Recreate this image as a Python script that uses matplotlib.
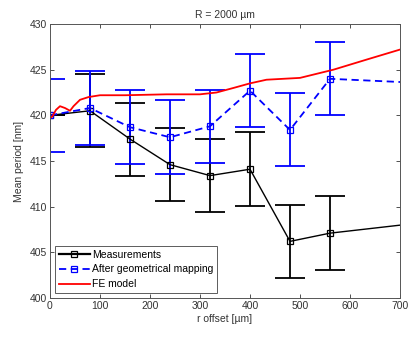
import matplotlib
matplotlib.use("Agg")
import matplotlib.pyplot as plt

r_meas = [0, 80, 160, 240, 320, 400, 480, 560, 720]
y_meas = [420.0, 420.5, 417.4, 414.6, 413.4, 414.1, 406.2, 407.1, 408.1]
err_meas = [0, 4.0, 4.0, 4.0, 4.0, 4.05, 4.0, 4.05]

r_map = [0, 80, 160, 240, 320, 400, 480, 560, 720]
y_map = [420.0, 420.8, 418.7, 417.6, 418.8, 422.7, 418.4, 424.0, 423.6]
err_map = [4.0, 4.05, 4.05, 4.05, 4.0, 4.0, 4.0, 4.0]

r_fe = [0, 5, 12, 20, 30, 40, 47, 60, 77, 100, 150, 233, 300, 333, 367, 400, 433, 500, 567, 633, 700]
y_fe = [419.7, 419.9, 420.6, 421.0, 420.8, 420.5, 421.0, 421.7, 422.0, 422.2, 422.2, 422.3, 422.3, 422.5, 423.0, 423.5, 423.9, 424.1, 425.0, 426.1, 427.2]

plt.rcParams['font.family'] = ['Liberation Sans', 'DejaVu Sans']
fig = plt.figure(figsize=(4.10, 3.47), dpi=100)
ax = fig.add_axes([50/410, 1-298/347, 350/410, 274/347])

n = len(err_meas)
ax.errorbar(r_meas[:n], y_meas[:n], yerr=err_meas, fmt='none', ecolor='black',
            elinewidth=1.3, capsize=11, capthick=1.3)
ax.errorbar(r_map[:n], y_map[:n], yerr=err_map, fmt='none', ecolor='#0000ff',
            elinewidth=1.3, capsize=11, capthick=1.3)
ax.plot(r_meas, y_meas, '-s', color='black', lw=1.0, ms=5, mfc='none', mew=0.9,
        label='Measurements')
ax.plot(r_map, y_map, '--s', color='#0000ff', lw=1.3, ms=5, mfc='none', mew=0.9,
        dashes=(4, 2.5), label='After geometrical mapping')
ax.plot(r_fe, y_fe, '-', color='#ff0000', lw=1.3, label='FE model')

ax.set_xlim(0, 700)
ax.set_ylim(400, 430)
ax.set_xticks(range(0, 701, 100))
ax.set_yticks(range(400, 431, 5))
ax.tick_params(direction='in', top=True, right=True, labelsize=7.5, length=3,
               width=0.6, colors='#333333', pad=2)
for s in ax.spines.values():
    s.set_linewidth(0.7)
    s.set_color('#555555')
ax.set_title('R = 2000 µm', fontsize=7.5, color='#333333', pad=4)
ax.set_xlabel('r offset [µm]', fontsize=7.5, color='#333333', labelpad=2)
ax.set_ylabel('Mean period [nm]', fontsize=7.5, color='#333333', labelpad=4)

leg = ax.legend(loc='lower left', fontsize=7.5, frameon=True, fancybox=False,
                edgecolor='#333333', borderpad=0.35, labelspacing=0.45,
                handlelength=3.0, handletextpad=0.2, borderaxespad=0.5)
leg.get_frame().set_linewidth(0.7)
leg.get_lines()[0].set_linewidth(1.6)

fig.savefig('out.png', dpi=100)
